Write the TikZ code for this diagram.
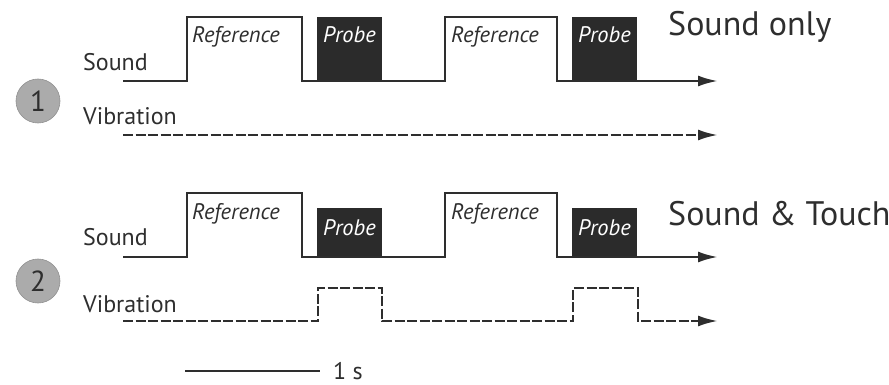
\documentclass[tikz,border=0pt]{standalone}
\usepackage{fontspec}
\setmainfont{PT Sans}
\usetikzlibrary{arrows.meta}
\definecolor{linec}{HTML}{2E2E2E}
\definecolor{boxc}{HTML}{2B2B2B}
\definecolor{discc}{HTML}{ABABAB}
\tikzset{
  sig/.style={draw=linec, line width=2.6pt, line join=miter},
  vib/.style={sig, dash pattern=on 10pt off 2.5pt},
  tip/.style={-{Latex[length=20pt,width=11pt]}},
  probebox/.style={fill=boxc, draw=none},
  lbl/.style={font=\fontsize{24}{24}\selectfont, text=linec, inner sep=0pt, anchor=base west},
  reflbl/.style={font=\fontsize{22.5}{22.5}\selectfont\itshape, text=linec, inner sep=0pt, anchor=base west},
  problbl/.style={font=\fontsize{22.5}{22.5}\selectfont\itshape, text=white, inner sep=0pt, anchor=base},
  title/.style={font=\fontsize{34}{34}\selectfont, text=linec, inner sep=0pt, anchor=base west},
  disc/.style={circle, fill=discc, draw=discc!85!black, line width=0.6pt, minimum size=44pt, inner sep=0pt,
               font=\fontsize{29}{29}\selectfont, text=linec},
}
\begin{document}
\begin{tikzpicture}[x=1pt, y=-1pt]
\useasboundingbox (0,0) rectangle (889,385);

% ---------- condition 1: sound only ----------
\node[disc] (c1) at (38,101) {1};
\node[lbl] (snd1) at (83,71) {Sound};
\node[lbl] (vib1) at (83,125) {Vibration};
\node[title] (t1) at (668,36) {Sound only};

\fill[probebox] (317,17) rectangle (382,81);
\fill[probebox] (572,17) rectangle (637,81);
\draw[sig, tip] (123,81) -- (187,81) -- (187,17) -- (302,17) -- (302,81)
  -- (445,81) -- (445,17) -- (557,17) -- (557,81) -- (718,81);
\node[reflbl] (r1a) at (192,43) {Reference};
\node[reflbl] (r1b) at (451,43) {Reference};
\node[problbl] (p1a) at (349.5,43) {Probe};
\node[problbl] (p1b) at (604.5,43) {Probe};

\draw[vib, tip] (123,135) -- (718,135);

% ---------- condition 2: sound and touch ----------
\node[disc] (c2) at (38,281) {2};
\node[lbl] (snd2) at (83,245) {Sound};
\node[lbl] (vib2) at (83,312) {Vibration};
\node[title] (t2) at (668,225) {Sound \& Touch};

\fill[probebox] (317,208) rectangle (382,257);
\fill[probebox] (572,208) rectangle (637,257);
\draw[sig, tip] (123,257) -- (187,257) -- (187,193) -- (302,193) -- (302,257)
  -- (445,257) -- (445,193) -- (557,193) -- (557,257) -- (718,257);
\node[reflbl] (r2a) at (192,219) {Reference};
\node[reflbl] (r2b) at (451,219) {Reference};
\node[problbl] (p2a) at (349.5,235) {Probe};
\node[problbl] (p2b) at (604.5,235) {Probe};

\draw[vib, tip] (123,321) -- (318,321) -- (318,288) -- (382,288) -- (382,321)
  -- (573,321) -- (573,288) -- (638,288) -- (638,321) -- (718,321);

% ---------- time scale ----------
\coordinate (s0) at (185,371);
\coordinate (s1) at (320,371);
\draw[sig] (s0) -- (s1);
\node[lbl, anchor=west] (sec) at (333,371) {1 s};
\end{tikzpicture}
\end{document}
